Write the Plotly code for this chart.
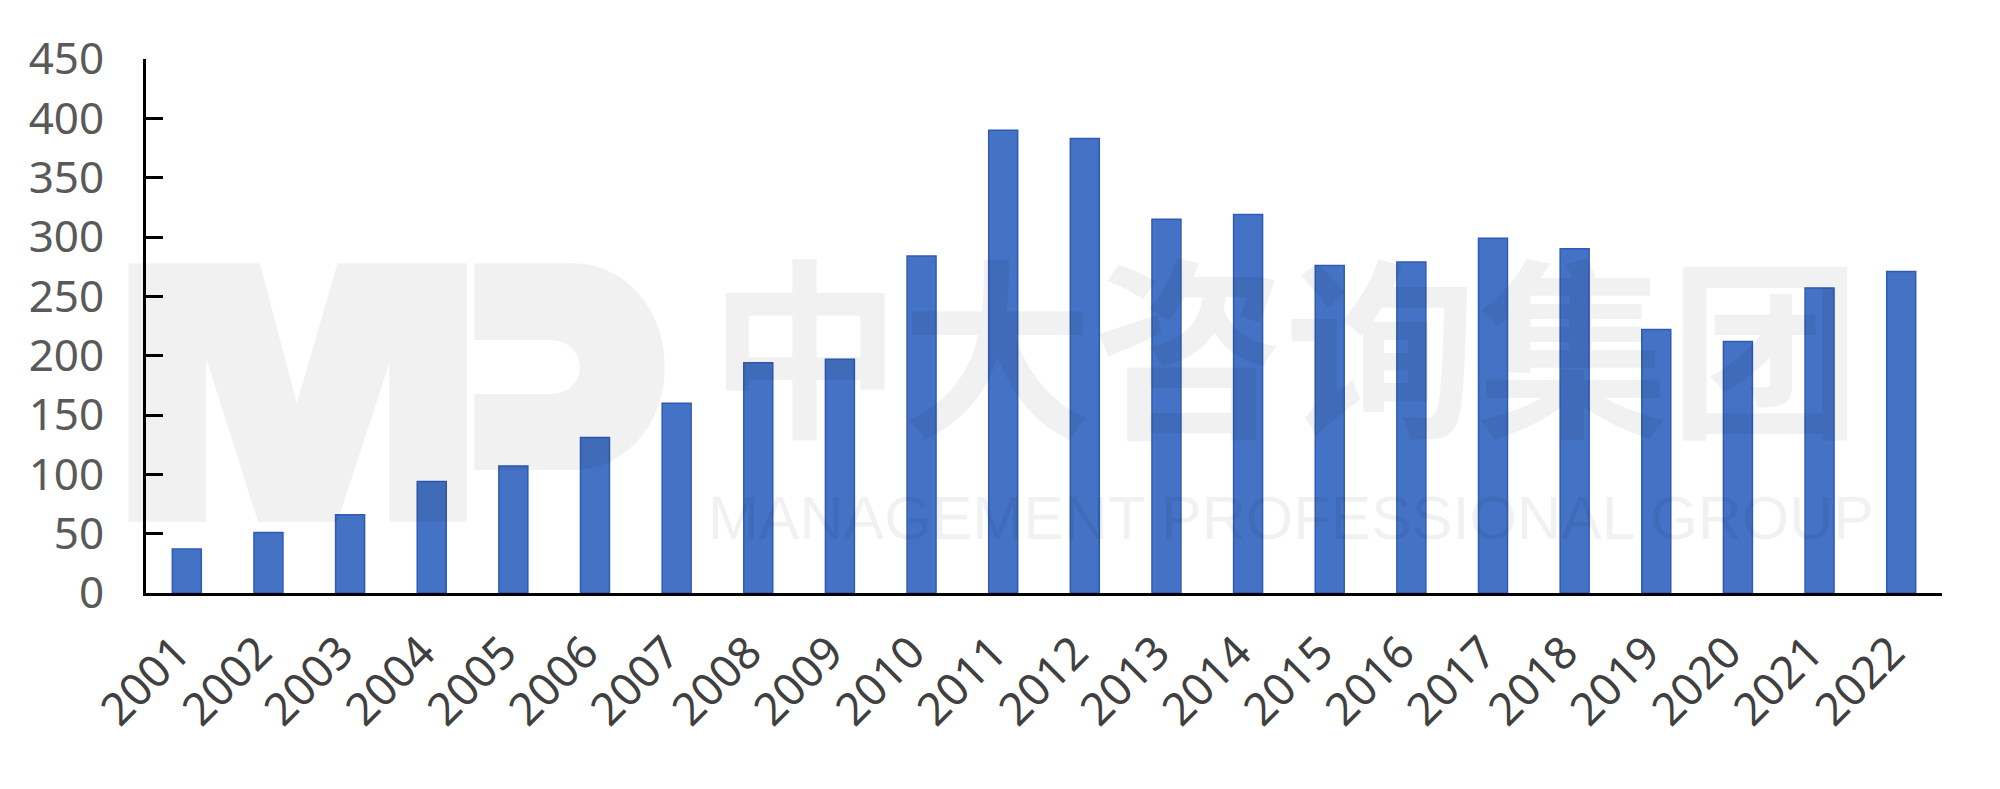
import plotly.graph_objects as go

years = [str(y) for y in range(2001, 2023)]
values = [37, 51, 66, 94, 107, 131, 160, 194, 197, 284, 390, 383, 315, 319, 276, 279, 299, 290, 222, 212, 257, 271]
y_ticks = [0, 50, 100, 150, 200, 250, 300, 350, 400, 450]
wm_cn = "中大咨询集团"
wm_en = "MANAGEMENT PROFESSIONAL GROUP"

W, H = 2000, 789
OFF = 8  # page body margin
# target plot area in page pixels: x 146..1942, y 59..593
PL, PR, PT, PB = 146, 1942, 59, 593
L, T = PL - OFF, PT - OFF
R, B = W - (PR - OFF), H - (PB - OFF)

def px2paper(x, y):
    return ((x - PL) / (PR - PL), (PB - y) / (PB - PT))

def disp(xd, yd):
    # convert watermark sketch coordinates to page pixels
    return px2paper(110 + xd / 2.7034, 240 + yd / 3.0)

def path_from(cmds):
    out = []
    for c in cmds:
        op = c[0]
        pts = c[1:]
        out.append(op + " ".join("%.5f,%.5f" % disp(*p) for p in pts))
    return " ".join(out) + " Z"

m_path = path_from([
    ("M", (50, 70)), ("L", (405, 70)), ("L", (505, 490)), ("L", (615, 70)),
    ("L", (965, 70)), ("L", (965, 845)), ("L", (755, 845)), ("L", (755, 370)),
    ("L", (615, 845)), ("L", (400, 845)), ("L", (260, 355)), ("L", (260, 845)),
    ("L", (50, 845)),
])
p_path = path_from([
    ("M", (985, 70)), ("L", (1250, 70)),
    ("C", (1395, 70), (1500, 210), (1500, 380)),
    ("C", (1500, 550), (1395, 690), (1250, 690)),
    ("L", (985, 690)), ("L", (985, 462)), ("L", (1190, 462)),
    ("C", (1240, 462), (1270, 425), (1270, 381)),
    ("C", (1270, 337), (1240, 300), (1190, 300)),
    ("L", (985, 300)),
])

wm = "rgba(0,0,0,0.055)"

fig = go.Figure()
fig.add_trace(go.Bar(
    x=years, y=values,
    marker=dict(color="#4472C4", line=dict(color="#2F5BB8", width=1.5)),
))

fig.update_layout(
    width=W, height=H,
    margin=dict(l=L, r=R, t=T, b=B, pad=0, autoexpand=False),
    paper_bgcolor="white", plot_bgcolor="white",
    bargap=0.645,
    showlegend=False,
    font=dict(family="Noto Sans", color="#595959"),
    shapes=[
        dict(type="path", path=m_path, xref="paper", yref="paper",
             fillcolor=wm, line=dict(width=0), layer="above"),
        dict(type="path", path=p_path, xref="paper", yref="paper",
             fillcolor=wm, line=dict(width=0), layer="above"),
    ],
    annotations=[
        dict(text=wm_cn, xref="paper", yref="paper",
             x=px2paper(1285, 0)[0], y=px2paper(0, 339)[1],
             xanchor="center", yanchor="middle", showarrow=False,
             font=dict(family="Noto Sans CJK SC", size=192, color=wm, weight=600)),
        dict(text=wm_en, xref="paper", yref="paper",
             x=px2paper(1291, 0)[0], y=px2paper(0, 518)[1],
             xanchor="center", yanchor="middle", showarrow=False,
             font=dict(family="Liberation Sans", size=61, color=wm)),
    ],
)

fig.update_xaxes(
    type="category",
    range=[-0.5, len(years) - 0.5],
    showline=True, linecolor="black", linewidth=3,
    ticks="", tickangle=-45,
    tickfont=dict(family="Noto Sans", size=45, color="#404040"),
    ticklabelstandoff=12, ticklabelshift=-10,
    showgrid=False, zeroline=False,
)
fig.update_yaxes(
    range=[0, 450],
    tickvals=y_ticks, ticktext=[str(v) for v in y_ticks],
    showline=True, linecolor="black", linewidth=3,
    ticks="inside", ticklen=17, tickwidth=3, tickcolor="black",
    tickfont=dict(family="Noto Sans", size=44, color="#595959"),
    ticklabelstandoff=30,
    showgrid=False, zeroline=False,
)

fig.write_html("out.html")
